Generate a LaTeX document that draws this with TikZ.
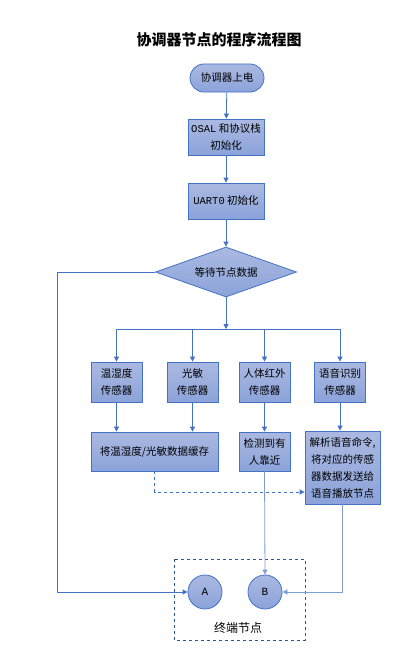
\documentclass[tikz,border=0pt]{standalone}
\usepackage{fontspec}
\usepackage{xcolor}
\usepackage{tikz}
\usetikzlibrary{shapes.geometric, arrows.meta, positioning, calc}
\newfontfamily\cjk{Noto Sans CJK SC}
\setmonofont{Liberation Mono}
\definecolor{lineblue}{RGB}{68, 114, 196}
\definecolor{paleblue}{RGB}{125, 157, 215}
\definecolor{boxtop}{RGB}{171, 185, 225}
\definecolor{boxbot}{RGB}{139, 163, 218}
\definecolor{frameblue}{RGB}{47, 85, 151}

\begin{document}
\begin{tikzpicture}[x=1pt, y=-1pt,
    every node/.style={font=\cjk\fontsize{10.5}{17}\selectfont},
    proc/.style={rectangle, draw=lineblue, thick, top color=boxtop, bottom color=boxbot, align=center, inner sep=1pt},
    term/.style={proc, rounded corners=14pt, minimum width=74pt, minimum height=28pt},
    decide/.style={diamond, aspect=2.82, draw=lineblue, thick, top color=boxtop, bottom color=boxbot, minimum width=141pt, minimum height=50pt, inner sep=0pt},
    endnode/.style={circle, draw=lineblue, thick, top color=boxtop, bottom color=boxbot, minimum size=34pt, inner sep=0pt, font=\ttfamily\fontsize{11}{13}\selectfont},
    flow/.style={-{Triangle[length=5pt, width=5pt]}, lineblue, thick},
    lflow/.style={-{Triangle[length=5pt, width=5pt]}, paleblue, thick},
    dflow/.style={flow, dashed}
]
    \useasboundingbox (0,0) rectangle (415,669);

    \node[font=\cjk\bfseries\fontsize{15}{18}\selectfont] (title) at (219,40) {协调器节点的程序流程图};

    % main chain
    \node[term] (start) at (227,78) {协调器上电};
    \node[proc, minimum width=76pt, minimum height=36pt] (osal) at (226,137) {{\ttfamily OSAL} 和协议栈\\初始化};
    \node[proc, minimum width=76pt, minimum height=36pt] (uart) at (226,201) {{\ttfamily UART0} 初始化};
    \node[decide] (wait) at (226,272) {等待节点数据};

    % sensors
    \node[proc, minimum width=51pt, minimum height=40pt] (temp) at (116.5,382) {温湿度\\传感器};
    \node[proc, minimum width=51pt, minimum height=40pt] (light) at (192.5,382) {光敏\\传感器};
    \node[proc, minimum width=51pt, minimum height=40pt] (pir) at (264.5,382) {人体红外\\传感器};
    \node[proc, minimum width=51pt, minimum height=40pt] (voice) at (340,382) {语音识别\\传感器};

    % handling
    \node[proc, minimum width=127pt, minimum height=39pt] (cache) at (154.5,451.5) {将温湿度/光敏数据缓存};
    \node[proc, minimum width=51pt, minimum height=39pt] (detect) at (264.5,451.5) {检测到有\\人靠近};
    \node[proc, minimum width=75pt, minimum height=73pt] (parse) at (342.5,467.5) {解析语音命令,\\将对应的传感\\器数据发送给\\语音播放节点};

    % end nodes
    \node[endnode] (A) at (205,592) {A};
    \node[endnode] (B) at (265,592) {B};
    \draw[frameblue, dashed, thick] (174,559) rectangle (305,640);
    \node[font=\cjk\fontsize{12}{14}\selectfont] (endlabel) at (238,628) {终端节点};

    \coordinate (bar) at (226,329);
    \coordinate (loop) at (57,272);

    \draw[flow] (start) -- (osal);
    \draw[flow] (osal) -- (uart);
    \draw[flow] (uart) -- (wait);
    \draw[flow] (wait) -- (bar);
    \draw[lineblue, thick] (bar -| temp) -- (bar -| voice);
    \draw[flow] (bar -| temp) -- (temp);
    \draw[flow] (bar -| light) -- (light);
    \draw[flow] (bar -| pir) -- (pir);
    \draw[flow] (bar -| voice) -- (voice);

    \draw[flow] (temp.south) -- (temp.south |- cache.north);
    \draw[flow] (light.south) -- (light.south |- cache.north);
    \draw[flow] (pir) -- (detect);
    \draw[flow] (voice.south) -- (voice.south |- parse.north);

    % cached data goes to the voice node
    \draw[dflow] (cache.south) |- ([yshift=-24.5pt]parse.west);

    % to the end nodes
    \draw[flow] (wait.west) -- (loop) |- (A.west);
    \draw[lflow] (detect.south) -- (B.north);
    \draw[lflow] (parse.south) |- (B.east);

\end{tikzpicture}
\end{document}
